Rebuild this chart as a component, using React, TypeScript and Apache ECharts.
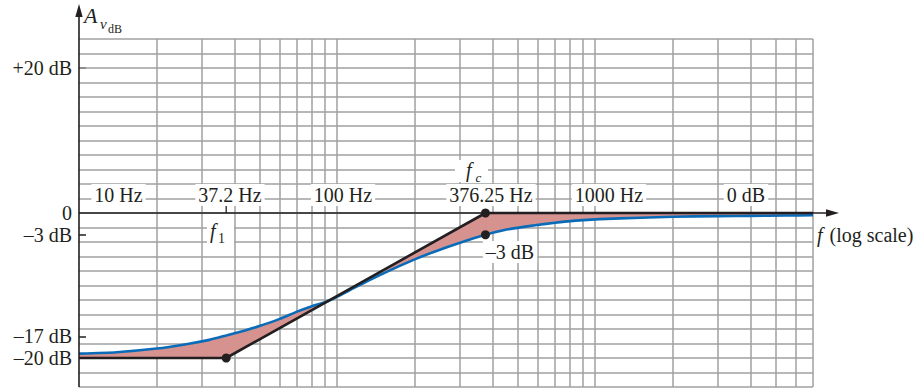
import React, { useEffect, useRef } from 'react';
import * as echarts from 'echarts';

// Vertical grid lines (Hz) on the log-frequency axis
const gridFreqs = [20, 30, 40, 50, 60, 70, 80, 90, 100, 200, 300, 400, 500, 600, 700, 800, 900, 1000, 2000, 3000, 4000, 5000, 6000, 7000];
// Horizontal grid lines (dB)
const gridDb = [-24, -22, -20, -18, -16, -14, -12, -10, -8, -6, -4, -2, 0, 2, 4, 6, 8, 10, 12, 14, 16, 18, 20, 22, 24];
// Y-axis labels and tick marks
const yLabelValues = [20, 0, -3, -17, -20];
const yTickValues = [20, -3, -17, -20];
// Straight-line (asymptotic) Bode plot
const asymptote: [number, number][] = [[10, -20], [37.2, -20], [376.25, 0], [7000, 0]];
const actual: [number, number][] = [
  [10, -19.4], [14, -19.2], [20, -18.7], [26, -18.1], [32, -17.5], [37.2, -16.9], [44, -16.2],
  [50, -15.6], [60, -14.6], [70, -13.6], [80, -12.85], [90, -12.3], [100, -11.55], [117, -10.3],
  [133, -9.3], [150, -8.4], [175, -7.3], [200, -6.4], [240, -5.3], [300, -4.1], [376.25, -3.0],
  [446, -2.35], [500, -2.05], [595, -1.65], [700, -1.35], [800, -1.12], [900, -0.98], [1045, -0.85],
  [1500, -0.65], [2000, -0.52], [3000, -0.43], [4000, -0.39], [5500, -0.35], [7000, -0.32],
];
// Marked points
const markedPoints: [number, number][] = [[37.2, -20], [376.25, 0], [376.25, -3]];

const INK = '#231f20';
const BLUE = '#0a6cb8';
const FILL = '#d5928f';
const GRID = '#a0a0a0';
const FONT = '"Liberation Serif", "Times New Roman", serif';

export default function App() {
  const ref = useRef<HTMLDivElement>(null);
  useEffect(() => {
    const chart = echarts.init(ref.current!, null, { renderer: 'svg' });
    chart.setOption({
      animation: false,
      grid: { left: 79, right: 109, top: 39, bottom: 1, containLabel: false },
      xAxis: {
        type: 'log', logBase: 10, min: 10, max: 7000,
        axisLine: { show: false }, axisTick: { show: false }, axisLabel: { show: false },
        splitLine: { show: false }, minorTick: { show: false }, minorSplitLine: { show: false },
      },
      yAxis: {
        type: 'value', min: -24, max: 24, interval: 2,
        axisLine: { show: false },
        axisTick: { show: true, inside: true, length: 7, customValues: yTickValues, lineStyle: { color: INK, width: 1.5 } },
        axisLabel: {
          customValues: yLabelValues,
          formatter: (v: number) => (v === 0 ? '0' : v > 0 ? `+${v} dB` : `\u2013${-v} dB`),
          color: INK, fontFamily: FONT, fontSize: 20, margin: 7,
        },
        splitLine: { show: false },
      },
      series: [
        {
          type: 'line', data: [[10, -24]], showSymbol: false, lineStyle: { opacity: 0 }, silent: true, z: 1,
          markLine: {
            z: 1, silent: true, symbol: ['none', 'none'], label: { show: false },
            lineStyle: { color: GRID, width: 1.5, type: 'solid' },
            emphasis: { disabled: true },
            data: [...gridFreqs.map((f) => ({ xAxis: f })), ...gridDb.map((d) => ({ yAxis: d }))],
          },
        },
        {
          type: 'custom', coordinateSystem: 'cartesian2d', data: [[10, 0]], z: 2, silent: true,
          renderItem: (_p: any, api: any) => {
            const pts = actual.map((p) => api.coord(p)).concat(asymptote.slice().reverse().map((p) => api.coord(p)));
            return { type: 'polygon', shape: { points: pts }, style: { fill: FILL } };
          },
        },
        { type: 'line', data: actual, showSymbol: false, smooth: 0.2, lineStyle: { color: BLUE, width: 2.6 }, z: 3, silent: true },
        { type: 'line', data: asymptote, showSymbol: false, lineStyle: { color: INK, width: 2.6 }, z: 4, silent: true },
        { type: 'scatter', data: markedPoints, symbolSize: 9, itemStyle: { color: INK, opacity: 1 }, z: 5, silent: true },
      ],
    });

    const o = chart.convertToPixel({ gridIndex: 0 }, [10, 0]) as number[];
    const bot = chart.convertToPixel({ gridIndex: 0 }, [10, -24]) as number[];
    const f1 = chart.convertToPixel({ gridIndex: 0 }, [37.2, 0]) as number[];
    const ax = o[0], ay = o[1];
    const label = (text: string, x: number, y: number) => ({
      type: 'text', x, y, z: 20,
      style: { text, fontFamily: FONT, fontSize: 20, fill: INK, align: 'center', verticalAlign: 'middle', backgroundColor: '#fff', padding: [1, 3] },
    });
    const txt = (text: string, x: number, y: number, size: number, italic: boolean) => ({
      type: 'text', x, y, z: 21,
      style: { text, fontFamily: FONT, fontSize: size, fontStyle: italic ? 'italic' : 'normal', fill: INK, align: 'left', verticalAlign: 'middle' },
    });
    chart.setOption({
      graphic: [
        { type: 'line', z: 15, shape: { x1: ax, y1: bot[1], x2: ax, y2: 15 }, style: { stroke: INK, lineWidth: 1.6 } },
        { type: 'polygon', z: 15, shape: { points: [[ax, 4], [ax - 3.7, 17], [ax + 3.7, 17]] }, style: { fill: INK } },
        { type: 'line', z: 15, shape: { x1: ax, y1: ay, x2: 828, y2: ay }, style: { stroke: INK, lineWidth: 1.6 } },
        { type: 'polygon', z: 15, shape: { points: [[839, ay], [826, ay - 3.7], [826, ay + 3.7]] }, style: { fill: INK } },
        { type: 'line', z: 15, shape: { x1: f1[0], y1: ay - 8, x2: f1[0], y2: ay }, style: { stroke: INK, lineWidth: 1.3 } },
        label('10 Hz', 118.5, 195),
        label('37.2 Hz', 230, 195),
        label('100 Hz', 343, 195),
        label('376.25 Hz', 491, 195),
        label('1000 Hz', 609, 195),
        label('0 dB', 746, 195),
        label('\u20133 dB', 510, 252),
        { type: 'rect', z: 19, shape: { x: 207, y: 215, width: 27, height: 31 }, style: { fill: '#fff' } },
        txt('f', 210, 231, 20, true),
        txt('1', 218, 238, 14, false),
        { type: 'rect', z: 19, shape: { x: 455, y: 160, width: 33, height: 22 }, style: { fill: '#fff' } },
        txt('f', 466, 170, 20, true),
        txt('c', 475.5, 177.5, 13, true),
        txt('A', 84, 15, 22, true),
        txt('v', 100, 24, 15, true),
        txt('dB', 108, 29, 12, false),
        txt('f', 817, 235, 20, true),
        txt('(log scale)', 829.5, 235, 20, false),
      ],
    });
    return () => chart.dispose();
  }, []);
  return <div ref={ref} style={{ position: 'fixed', left: 0, top: 0, width: 922, height: 388, background: '#fff' }} />;
}
